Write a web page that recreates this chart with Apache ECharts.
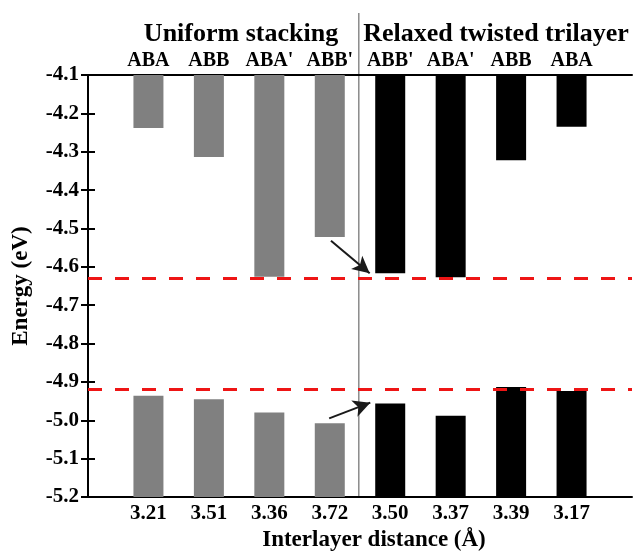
<!DOCTYPE html>
<html>
<head>
<meta charset="utf-8">
<script src="https://cdn.jsdelivr.net/npm/echarts@6/dist/echarts.min.js"></script>
<style>
html, body { margin: 0; padding: 0; background: #fff; }
#chart { width: 635px; height: 559px; }
</style>
</head>
<body>
<div id="chart"></div>
<script>
// categories: interlayer distance (A) and stacking type
var distances = ['3.21', '3.51', '3.36', '3.72', '3.50', '3.37', '3.39', '3.17'];
var stackings = ['ABA', 'ABB', "ABA'", "ABB'", "ABB'", "ABA'", 'ABB', 'ABA'];
var groups = ['uniform', 'uniform', 'uniform', 'uniform', 'relaxed', 'relaxed', 'relaxed', 'relaxed'];
// band edges (eV)
var upperEdge = [-4.238, -4.314, -4.626, -4.522, -4.617, -4.627, -4.322, -4.235];
var lowerEdge = [-4.936, -4.945, -4.980, -5.008, -4.956, -4.988, -4.913, -4.924];
// reference lines (eV)
var refLines = [-4.628, -4.915];
var yMin = -5.2, yMax = -4.1;

var colors = { uniform: '#808080', relaxed: '#000000' };
var serif = '"Liberation Serif", "Times New Roman", serif';

var topData = upperEdge.map(function(v, i) {
	return { value: [i + 1, v], itemStyle: { color: colors[groups[i]] } };
});
// lower bars: stacked on a transparent base, value first so the stack runs along y
var baseData = lowerEdge.map(function(v, i) { return [v, i + 1]; });
var lowData = lowerEdge.map(function(v, i) {
	return { value: [yMin - v, i + 1], itemStyle: { color: colors[groups[i]] } };
});

var myChart = echarts.init(document.getElementById('chart'));

var redLine = { color: '#ee1515', width: 3, type: [14, 13] };

var option = {
	animation: false,
	backgroundColor: '#fff',
	grid: { left: 88, right: 3, top: 75, bottom: 62 },
	xAxis: [{
		type: 'value', min: 0, max: 9, interval: 1, position: 'bottom',
		axisLine: { lineStyle: { color: '#000', width: 2 } },
		axisTick: { show: false },
		splitLine: { show: false },
		axisLabel: {
			margin: 6, fontFamily: serif, fontWeight: 'bold', fontSize: 21, color: '#000',
			formatter: function(v) { return distances[v - 1] || ''; }
		},
		name: 'Interlayer distance (\u00c5)', nameLocation: 'middle', nameGap: 32,
		nameTextStyle: { fontFamily: serif, fontWeight: 'bold', fontSize: 23, color: '#000', padding: [0, 0, 0, 28] }
	}, {
		type: 'value', min: 0, max: 9, interval: 1, position: 'top',
		axisLine: { lineStyle: { color: '#000', width: 2 } },
		axisTick: { show: false },
		splitLine: { show: false },
		axisLabel: {
			margin: 4, fontFamily: serif, fontWeight: 'bold', fontSize: 20, color: '#000',
			formatter: function(v) { return stackings[v - 1] || ''; }
		}
	}],
	yAxis: [{
		type: 'value', min: yMin, max: yMax, interval: 0.1, position: 'left',
		axisLine: { show: true, lineStyle: { color: '#000', width: 2 } },
		axisTick: { show: true, inside: true, length: 7, lineStyle: { width: 2 } },
		splitLine: { show: false },
		axisLabel: {
			margin: 9, fontFamily: serif, fontWeight: 'bold', fontSize: 21, color: '#000',
			formatter: function(v) { return v.toFixed(1); }
		},
		name: 'Energy (eV)', nameLocation: 'middle', nameGap: 55,
		nameTextStyle: { fontFamily: serif, fontWeight: 'bold', fontSize: 23, color: '#000' }
	}, {
		type: 'value', min: yMin, max: yMax, interval: 0.1, position: 'right',
		axisLine: { show: true, lineStyle: { color: '#000', width: 2 } },
		axisTick: { show: true, inside: true, length: 7, lineStyle: { width: 2 } },
		splitLine: { show: false },
		axisLabel: { show: false }
	}],
	series: [{
		name: 'upper', type: 'bar', barWidth: 30, barGap: '-100%',
		data: topData,
		markLine: {
			silent: true,
			symbol: ['none', 'none'],
			label: { show: false },
			lineStyle: { color: '#1a1a1a', width: 2, type: 'solid' },
			data: [
				{ yAxis: refLines[0], lineStyle: redLine },
				{ yAxis: refLines[1], lineStyle: redLine },
				[{ coord: [4.02, -4.532] }, { coord: [4.66, -4.617], symbol: 'arrow', symbolSize: [13, 17] }],
				[{ coord: [3.99, -4.995] }, { coord: [4.67, -4.954], symbol: 'arrow', symbolSize: [13, 17] }]
			]
		}
	}, {
		name: 'base', type: 'bar', stack: 'low', barWidth: 30, barGap: '-100%', silent: true,
		encode: { x: 1, y: 0 },
		itemStyle: { color: 'transparent' },
		data: baseData
	}, {
		name: 'lower', type: 'bar', stack: 'low', barWidth: 30, barGap: '-100%',
		encode: { x: 1, y: 0 },
		data: lowData
	}]
};

myChart.setOption(option);

// separator between the two groups, and group titles
var sepX = myChart.convertToPixel({ xAxisIndex: 0 }, 4.48);
var bottomY = myChart.convertToPixel({ yAxisIndex: 0 }, yMin);
myChart.setOption({
	graphic: [{
		type: 'line', silent: true, z: 0,
		shape: { x1: sepX, y1: 13, x2: sepX, y2: bottomY },
		style: { stroke: '#8a8a8a', lineWidth: 1.5 }
	}, {
		type: 'text', x: 241, y: 34,
		style: { text: 'Uniform stacking', fontFamily: serif, fontWeight: 'bold', fontSize: 26, fill: '#000', align: 'center', verticalAlign: 'middle' }
	}, {
		type: 'text', x: 496, y: 34,
		style: { text: 'Relaxed twisted trilayer', fontFamily: serif, fontWeight: 'bold', fontSize: 26, fill: '#000', align: 'center', verticalAlign: 'middle' }
	}]
});
</script>
</body>
</html>
